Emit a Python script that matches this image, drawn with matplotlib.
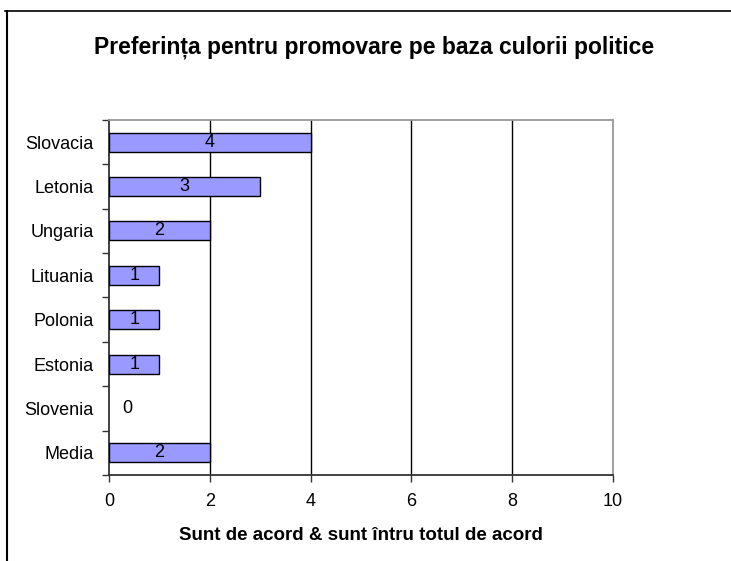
import numpy as np
import matplotlib
matplotlib.use("Agg")
from matplotlib import pyplot as plt
from matplotlib.lines import Line2D

# date
tari = ["Slovacia", "Letonia", "Ungaria", "Lituania", "Polonia", "Estonia", "Slovenia", "Media"]
valori = [4, 3, 2, 1, 1, 1, 0, 2]
titlu = "Preferința pentru promovare pe baza culorii politice"
eticheta_x = "Sunt de acord & sunt întru totul de acord"
ticks_x = [0, 2, 4, 6, 8, 10]

plt.rcParams['font.family'] = ['Liberation Sans', 'DejaVu Sans']

fig = plt.figure(figsize=(7.31, 5.61), dpi=100)
ax = fig.add_axes([0.1491, 0.1533, 0.6895, 0.6328])

n = len(tari)
y = np.arange(n)[::-1]
# bara de valoare 0 nu are contur
grosimi = [1 if v > 0 else 0 for v in valori]
ax.barh(y, valori, height=0.43, color="#9999FF", edgecolor="black", linewidth=grosimi, zorder=3)

for yi, v in zip(y, valori):
    xt = v / 2 if v > 0 else 0.36
    ax.text(xt, yi, str(v), ha="center", va="center", fontsize=13, zorder=4)

ax.set_xlim(0, 10)
ax.set_ylim(-0.5, n - 0.5)
ax.set_xticks(ticks_x)
ax.set_xticklabels([str(t) for t in ticks_x], fontsize=13)
ax.tick_params(axis="x", length=5, width=1, pad=8, color="#333333")

# etichete tari centrate, tick-uri intre categorii
ax.set_yticks(y)
ax.set_yticklabels(tari, fontsize=13)
ax.tick_params(axis="y", which="major", length=0, pad=11)
ax.set_yticks(np.arange(n + 1) - 0.5, minor=True)
ax.tick_params(axis="y", which="minor", length=5, width=1, color="#333333")

for t in ticks_x[1:-1]:
    ax.axvline(t, color="black", linewidth=1, zorder=1)

ax.spines["left"].set_color("#333333")
ax.spines["bottom"].set_color("#333333")
ax.spines["top"].set_color("#999999")
ax.spines["right"].set_color("#999999")
for s in ax.spines.values():
    s.set_linewidth(1.3)

ax.set_xlabel(eticheta_x, fontsize=13.5, fontweight="bold", labelpad=12)
fig.text(0.512, 0.916, titlu, ha="center", va="center", fontsize=16.5, fontweight="bold")

# chenarul graficului (sus si stanga)
fig.add_artist(Line2D([0.007, 1.0], [0.981, 0.981], transform=fig.transFigure, color="black", linewidth=1.2))
fig.add_artist(Line2D([0.009, 0.009], [0.0, 0.981], transform=fig.transFigure, color="black", linewidth=1.5))

fig.savefig("out.png", dpi=100)
